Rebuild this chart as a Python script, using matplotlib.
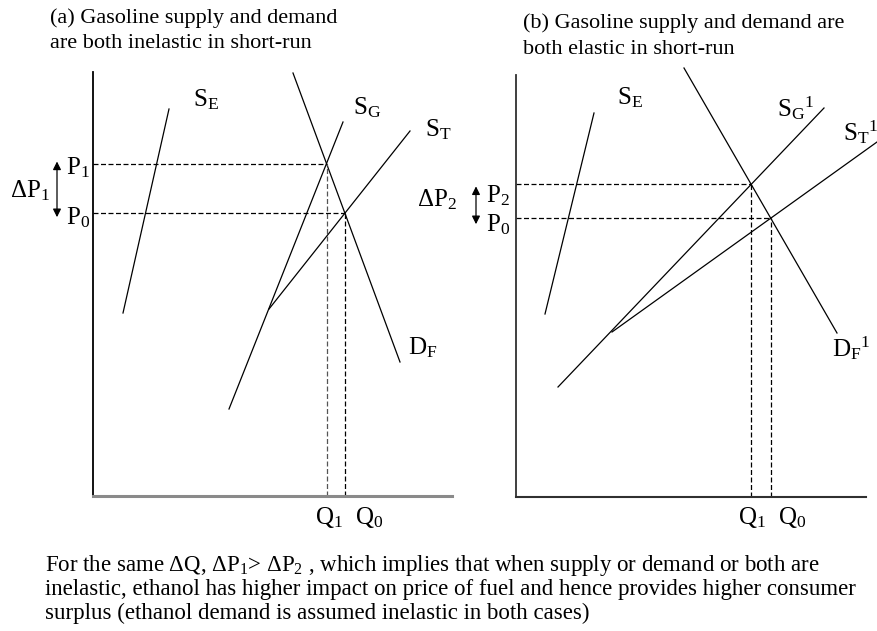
import numpy as np
import matplotlib
matplotlib.use("Agg")
import matplotlib.pyplot as plt

plt.rcParams['font.family'] = ['Liberation Serif', 'DejaVu Serif']
plt.rcParams['mathtext.fontset'] = 'custom'
plt.rcParams['mathtext.rm'] = 'Liberation Serif'
plt.rcParams['mathtext.it'] = 'Liberation Serif:italic'

# Panel (a): supply and demand inelastic. Curve endpoints as (quantity, price)
a_se_q = [30, 76];   a_se_p = [183, 387]     # ethanol supply
a_df_q = [200, 307]; a_df_p = [423, 134]     # fuel demand
a_sg_q = [136, 250]; a_sg_p = [87, 374]      # gasoline supply
a_st_q = [176, 317]; a_st_p = [187, 365]     # total supply

# Panel (b): supply and demand elastic
b_se_q = [29, 78];   b_se_p = [183, 384]
b_df_q = [168, 321]; b_df_p = [429, 164]
b_sg_q = [42, 308];  b_sg_p = [110, 389]
b_st_q = [96, 361];  b_st_p = [165, 355]

title_a = ["(a) Gasoline supply and demand", "are both inelastic in short-run"]
title_b = ["(b) Gasoline supply and demand are", "both elastic in short-run"]
caption = ["For the same \u0394Q, \u0394P$_1$> \u0394P$_2$ , which implies that when supply or demand or both are",
           "inelastic, ethanol has higher impact on price of fuel and hence provides higher consumer",
           "surplus (ethanol demand is assumed inelastic in both cases)"]


def intersect(q1, p1, q2, p2):
    m1 = (p1[1] - p1[0]) / (q1[1] - q1[0])
    m2 = (p2[1] - p2[0]) / (q2[1] - q2[0])
    q = (p2[0] - m2 * q2[0] - p1[0] + m1 * q1[0]) / (m1 - m2)
    return q, p1[0] + m1 * (q - q1[0])


W, H = 877, 631
fig = plt.figure(figsize=(W / 100, H / 100), dpi=100)


def make_axes(x0, y0, w, h, xcol, ycol, xw):
    ax = fig.add_axes([x0 / W, (H - y0) / H, w / W, h / H])
    ax.set_xlim(0, w)
    ax.set_ylim(0, h)
    for s in ['top', 'right']:
        ax.spines[s].set_visible(False)
    ax.spines['left'].set_color(ycol)
    ax.spines['left'].set_linewidth(1.3)
    ax.spines['bottom'].set_color(xcol)
    ax.spines['bottom'].set_linewidth(xw)
    ax.set_xticks([])
    ax.set_yticks([])
    ax.patch.set_alpha(0)
    return ax


def draw_panel(ax, se, df, sg, st, q1col):
    for q, p in [se, df, sg, st]:
        ax.plot(q, p, color='black', lw=0.9, clip_on=False)
    qa, pa = intersect(sg[0], sg[1], df[0], df[1])
    qb, pb = intersect(st[0], st[1], df[0], df[1])
    ls = (0, (4, 2))
    ax.plot([0, qa], [pa, pa], color='black', lw=0.9, ls=ls)
    ax.plot([0, qb], [pb, pb], color='black', lw=0.9, ls=ls)
    ax.plot([qa, qa], [0, pa], color=q1col, lw=0.9, ls=ls)
    ax.plot([qb, qb], [0, pb], color='black', lw=0.9, ls=ls)
    return pa, pb


lab = dict(fontsize=18, va='center', ha='left', clip_on=False)
arr = dict(arrowstyle='<|-|>', color='black', lw=0.9, mutation_scale=12,
           shrinkA=0, shrinkB=0)

# ---- panel (a)
axa = make_axes(93, 496, 359, 424, '#8a8a8a', 'black', 2.2)
pa1, pa0 = draw_panel(axa, (a_se_q, a_se_p), (a_df_q, a_df_p),
                      (a_sg_q, a_sg_p), (a_st_q, a_st_p), '#555555')
axa.text(100, 396, r"$\mathregular{S_E}$", **lab)
axa.text(260, 388, r"$\mathregular{S_G}$", **lab)
axa.text(332, 366, r"$\mathregular{S_T}$", **lab)
axa.text(315, 148, r"$\mathregular{D_F}$", **lab)
axa.text(-27, 328, r"$\mathregular{P_1}$", **lab)
axa.text(-27, 278, r"$\mathregular{P_0}$", **lab)
axa.text(-83, 305, r"$\mathregular{\Delta P_1}$", **lab)
axa.text(222, -21, r"$\mathregular{Q_1}$", **lab)
axa.text(262, -21, r"$\mathregular{Q_0}$", **lab)
axa.annotate("", xy=(-36, pa1 + 2), xytext=(-36, pa0 - 4), annotation_clip=False,
             arrowprops=arr)

# ---- panel (b)
axb = make_axes(516, 497, 350, 422, '#303030', '#303030', 1.5)
pb2, pb0 = draw_panel(axb, (b_se_q, b_se_p), (b_df_q, b_df_p),
                      (b_sg_q, b_sg_p), (b_st_q, b_st_p), 'black')
axb.text(101, 399, r"$\mathregular{S_E}$", **lab)
axb.text(261, 389, r"$\mathregular{{S_G}^1}$", **lab)
axb.text(327, 365, r"$\mathregular{{S_T}^1}$", **lab)
axb.text(316, 149, r"$\mathregular{{D_F}^1}$", **lab)
axb.text(-30, 301, r"$\mathregular{P_2}$", **lab)
axb.text(-30, 272, r"$\mathregular{P_0}$", **lab)
axb.text(-99, 297, r"$\mathregular{\Delta P_2}$", **lab)
axb.text(222, -21, r"$\mathregular{Q_1}$", **lab)
axb.text(262, -21, r"$\mathregular{Q_0}$", **lab)
axb.annotate("", xy=(-40, pb2 - 2), xytext=(-40, pb0 - 6), annotation_clip=False,
             arrowprops=arr)

# ---- titles and caption
for i, t in enumerate(title_a):
    fig.text(50 / W, 1 - (18 + 25 * i) / H, t, fontsize=16, va='center', ha='left')
for i, t in enumerate(title_b):
    fig.text(523 / W, 1 - (23 + 26 * i) / H, t, fontsize=16, va='center', ha='left')
for i, t in enumerate(caption):
    fig.text(45 / W, 1 - (565 + 24 * i) / H, t, fontsize=16.5, va='center', ha='left')

fig.savefig("out.png", dpi=100, facecolor='white')
